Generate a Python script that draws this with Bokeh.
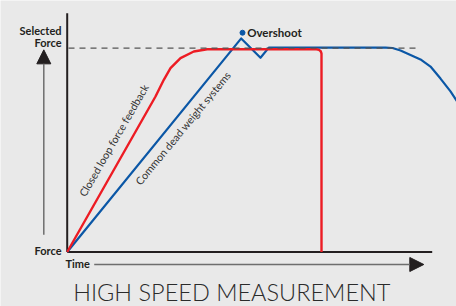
from bokeh.plotting import figure
from bokeh.models import Range1d, Arrow, NormalHead
from bokeh.core.properties import value
from bokeh.embed import file_html
from bokeh.resources import INLINE

# ---- data (time in arbitrary units, force normalised to selected force = 1) ----
red_time = [0, 8.83, 9.66, 10.33, 11.33, 12.66, 14.0, 16.33, 24.93, 25.18, 25.35, 25.43, 25.43]
red_force = [0, 0.763, 0.845, 0.902, 0.951, 0.984, 0.995, 0.995, 0.995, 0.992, 0.985, 0.974, 0]

blue_time = [0, 17.4, 19.33, 20.16, 31.83, 32.53, 33.33, 35.33, 36.33, 37.33, 38.33, 39.13]
blue_force = [0, 1.048, 0.953, 1.003, 1.003, 1.001, 0.989, 0.945, 0.910, 0.851, 0.788, 0.729]

selected_force = 1.0
dash_time = [0.13, 35.13]
overshoot_time = [17.53]
overshoot_force = [1.076]

time_axis_end = 36.5
force_axis_top = 1.172

red_label = "Closed loop force feedback"
blue_label = "Common dead weight systems"
title_text = "HIGH SPEED MEASUREMENT"

BG = "#e9e9e9"
RED = "#ed1c24"
BLUE = "#0b57a6"
INK = "#231f20"
GREY = "#6e6e6e"

p = figure(width=456, height=306,
           x_range=Range1d(-6.67, 38.93), y_range=Range1d(-0.2674, 1.2341),
           x_axis_type=None, y_axis_type=None,
           output_backend="svg", toolbar_location=None, min_border=0)
p.grid.visible = False
p.outline_line_color = None
p.background_fill_color = BG
p.border_fill_color = BG

# main axes
p.line([0, 0], [0, force_axis_top], line_color=INK, line_width=2)
p.line([0, time_axis_end], [0, 0], line_color=INK, line_width=2)

# curves
p.line(blue_time, blue_force, line_color=BLUE, line_width=2.2, line_join="round")
p.line(red_time, red_force, line_color=RED, line_width=2.4, line_join="round")

# selected force dashed line
p.line(dash_time, [selected_force, selected_force], line_color="#555555",
       line_width=1.3, line_dash="6 5")

# overshoot
p.scatter(overshoot_time, overshoot_force, size=5, color=BLUE)
p.text([18.0], [1.075], text=["Overshoot"], text_font=value("Lato"),
       text_font_style="bold", text_font_size="11.5px", text_color=INK,
       text_baseline="middle", text_align="left")

# curve labels
p.text([2.0], [0.262], text=[red_label], angle=1.047, text_font=value("Lato"),
       text_font_size="10.7px", text_color="#333333", text_baseline="bottom", text_align="left")
p.text([7.5], [0.318], text=[blue_label], angle=0.881, text_font=value("Lato"),
       text_font_size="10.7px", text_color="#333333", text_baseline="bottom", text_align="left")

# axis labels
p.text([-0.57, -0.57], [1.089, 1.028], text=["Selected", "Force"], text_font=value("Lato"),
       text_font_style="bold", text_font_size="11px", text_color=INK,
       text_baseline="middle", text_align="right")
p.text([-0.57], [0.0088], text=["Force"], text_font=value("Lato"),
       text_font_style="bold", text_font_size="11px", text_color=INK,
       text_baseline="middle", text_align="right")
p.text([-0.17], [-0.058], text=["Time"], text_font=value("Lato"),
       text_font_style="bold", text_font_size="11px", text_color=INK,
       text_baseline="middle", text_align="left")

# arrows
p.add_layout(Arrow(end=NormalHead(size=14, fill_color=INK, line_color=INK, line_width=1),
                   x_start=-2.34, y_start=0.0844, x_end=-2.34, y_end=0.992,
                   line_color=GREY, line_width=1.5))
p.add_layout(Arrow(end=NormalHead(size=14, fill_color=INK, line_color=INK, line_width=1),
                   x_start=2.7, y_start=-0.0613, x_end=35.66, y_end=-0.0613,
                   line_color=GREY, line_width=1.5))

# title
p.text([16.46], [-0.1938], text=[title_text], text_font=value("Lato Light"),
       text_font_size="23.5px", text_color="#2b2b2b", text_baseline="middle", text_align="center")

open("out.html", "w").write(file_html(p, INLINE))
